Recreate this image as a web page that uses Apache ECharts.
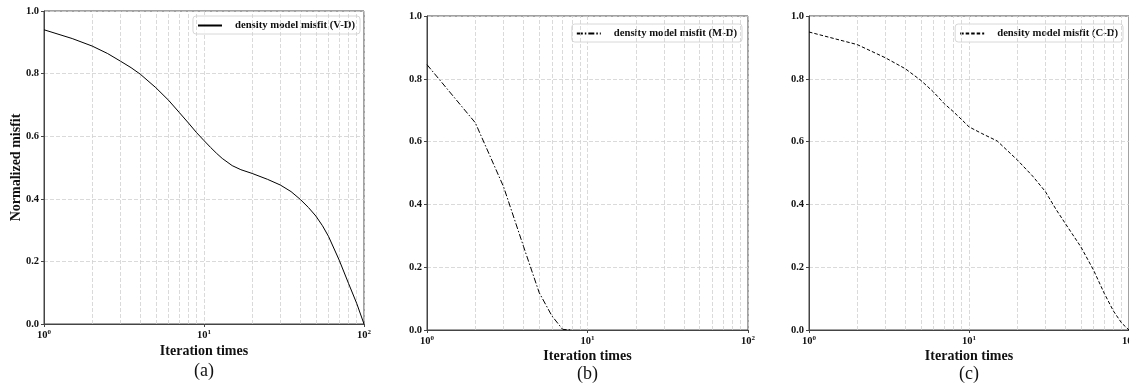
<!DOCTYPE html>
<html><head><meta charset="utf-8">
<script src="https://cdn.jsdelivr.net/npm/echarts@6/dist/echarts.min.js"></script>
<style>html,body{margin:0;padding:0;background:#fff}#c{width:1129px;height:386px}</style>
</head><body><div id="c"></div>
<script>
// Panel (a) V-D
const xA = [1, 1.5, 2, 2.5, 3, 3.5, 4, 5, 6, 7, 8, 9, 10, 11, 12, 13, 15, 17, 20, 25, 30, 35, 40, 45, 50, 55, 60, 70, 80, 90, 100];
const yA = [0.940, 0.912, 0.888, 0.864, 0.840, 0.819, 0.798, 0.755, 0.715, 0.676, 0.642, 0.611, 0.586, 0.564, 0.545, 0.529, 0.506, 0.493, 0.481, 0.462, 0.444, 0.423, 0.398, 0.372, 0.345, 0.314, 0.280, 0.204, 0.130, 0.066, 0.0];
// Panel (b) M-D
const xB = [1, 2, 3, 4, 5, 6, 7, 8];
const yB = [0.845, 0.660, 0.456, 0.265, 0.119, 0.045, 0.002, 0.0];
// Panel (c) C-D
const xC = [1, 2, 3, 4, 5, 6, 7, 8, 9, 10, 12, 15, 20, 25, 30, 35, 40, 50, 60, 70, 80, 90, 100];
const yC = [0.949, 0.909, 0.867, 0.832, 0.795, 0.758, 0.721, 0.695, 0.670, 0.647, 0.626, 0.602, 0.542, 0.490, 0.441, 0.384, 0.339, 0.265, 0.191, 0.117, 0.060, 0.022, 0.0];
const names = ['density model misfit (V-D)', 'density model misfit (M-D)', 'density model misfit (C-D)'];
const panelLabels = ['(a)', '(b)', '(c)'];
const minorX = [2, 3, 4, 5, 6, 7, 8, 9, 20, 30, 40, 50, 60, 70, 80, 90];

const FONT = '"Liberation Serif", "Times New Roman", serif';
const grids = [
  {left: 44, top: 11, width: 320, height: 313},
  {left: 427, top: 16, width: 321, height: 314},
  {left: 809, top: 16, width: 320, height: 314}
];
const centers = [204, 587.5, 969];
const pairs = (xs, ys) => xs.map((x, i) => [x, ys[i]]);
const dataSets = [pairs(xA, yA), pairs(xB, yB), pairs(xC, yC)];
const lineTypes = ['solid', [6, 2, 1.5, 2], [3.5, 2]];

const option = {
  animation: false,
  backgroundColor: '#fff',
  grid: grids.map(g => Object.assign({show: true, borderColor: '#444', borderWidth: 1, containLabel: false, outerBoundsMode: 'none'}, g)),
  xAxis: grids.map((g, i) => ({
    type: 'log', logBase: 10, min: 1, max: 100, gridIndex: i,
    axisLine: {show: true, lineStyle: {color: '#444', width: 1}},
    axisTick: {show: true, length: 3, lineStyle: {color: '#444'}},
    splitLine: {show: true, lineStyle: {color: '#d0d0d0', type: [4, 2], width: 0.8}},
    axisLabel: {
      margin: 5, color: '#111', fontFamily: FONT, fontWeight: 'bold', fontSize: 10.5,
      formatter: v => '10{s|' + Math.round(Math.log10(v)) + '}',
      rich: {s: {fontSize: 7, fontFamily: FONT, fontWeight: 'bold', verticalAlign: 'top', padding: [0, 0, 6, 0], color: '#111'}}
    },
    name: 'Iteration times', nameLocation: 'middle',
    nameGap: [20, 19, 19][i], nameMoveOverlap: false,
    nameTextStyle: {fontFamily: FONT, fontWeight: 'bold', fontSize: 14, color: '#111'}
  })),
  yAxis: grids.map((g, i) => ({
    type: 'value', min: 0, max: 1, interval: 0.2, gridIndex: i,
    axisLine: {show: true, lineStyle: {color: '#444', width: 1}},
    axisTick: {show: true, length: 3, lineStyle: {color: '#444'}},
    splitLine: {show: true, lineStyle: {color: '#d0d0d0', type: [4, 2], width: 0.8}},
    axisLabel: {margin: 5, color: '#111', fontFamily: FONT, fontWeight: 'bold', fontSize: 10.5,
      formatter: v => v.toFixed(1)},
    name: i === 0 ? 'Normalized misfit' : '', nameLocation: 'middle', nameGap: 21, nameMoveOverlap: false,
    nameTextStyle: {fontFamily: FONT, fontWeight: 'bold', fontSize: 14, color: '#111'}
  })),
  legend: [
    {right: 1129 - 360, top: 16},
    {right: 1129 - 742, top: 24},
    {right: 1129 - 1123, top: 24}
  ].map((p, i) => Object.assign({
    data: [names[i]], orient: 'vertical',
    itemWidth: 24, itemHeight: 8, itemGap: 4,
    padding: [4, 5, 3, 4],
    borderColor: '#d8d8d8', borderWidth: 1, borderRadius: 3,
    backgroundColor: 'rgba(255,255,255,0.85)',
    itemStyle: {opacity: 0},
    textStyle: {fontFamily: FONT, fontWeight: 'bold', fontSize: 10.7, color: '#111', padding: [0, 0, 0, 8]}
  }, p)),
  title: panelLabels.map((t, i) => ({
    text: t, left: centers[i], textAlign: 'center', top: [362, 365, 365][i],
    padding: 0,
    textStyle: {fontFamily: FONT, fontWeight: 'normal', fontSize: 18, color: '#111'}
  })),
  series: dataSets.map((d, i) => ({
    type: 'line', name: names[i], xAxisIndex: i, yAxisIndex: i,
    data: d, symbol: 'none', smooth: false,
    lineStyle: {color: '#000', width: 1, type: lineTypes[i]},
    itemStyle: {color: '#000'},
    markLine: {
      silent: true, symbol: 'none', label: {show: false},
      lineStyle: {color: '#d0d0d0', type: [4, 2], width: 0.8},
      data: minorX.map(x => ({xAxis: x}))
    },
    z: 5
  }))
};
echarts.init(document.getElementById('c'), null, {renderer: 'canvas'}).setOption(option);
</script></body></html>
